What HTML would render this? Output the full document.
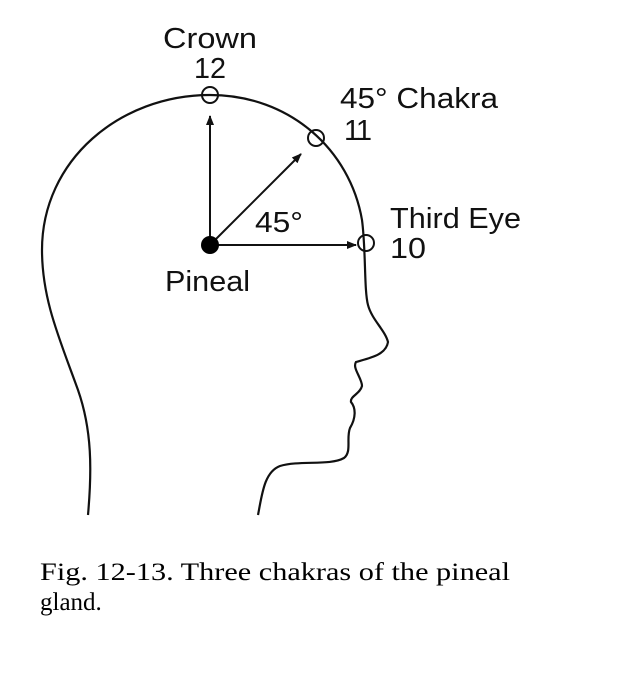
<!DOCTYPE html>
<html><head><style>
html,body{margin:0;padding:0;background:#fff;width:630px;height:700px;overflow:hidden}
svg{display:block}
.l{font-family:"Liberation Sans",sans-serif;font-size:29px;fill:#111}
.c{font-family:"Liberation Serif",serif;font-size:25px;fill:#000}
</style></head><body>
<svg width="630" height="700" viewBox="0 0 630 700">
<defs><marker id="a" markerWidth="10" markerHeight="10" refX="9" refY="5" orient="auto" markerUnits="userSpaceOnUse"><path d="M0,1 L10,5 L0,9 Z" fill="#111"/></marker></defs>
<path d="M88,515 C92,470 92,430 78,390 C60,340 42,300 42,250 C42,160 120,95 210,95 C290,95 350,150 362,220 C366,250 364,290 368,305 C372,320 385,330 388,342 C386,355 370,358 356,362 C352,368 362,378 362,386 C360,394 350,396 351,402 C356,408 356,418 350,428 C346,438 352,452 344,458 C330,466 300,460 280,466 C264,472 262,495 258,515" fill="none" stroke="#111" stroke-width="2.2"/>
<circle cx="210" cy="95" r="8" fill="none" stroke="#111" stroke-width="2"/>
<circle cx="316" cy="138" r="8" fill="none" stroke="#111" stroke-width="2"/>
<circle cx="366" cy="243" r="8" fill="none" stroke="#111" stroke-width="2"/>
<line x1="210" y1="245" x2="210" y2="116" stroke="#111" stroke-width="2" marker-end="url(#a)"/>
<line x1="210" y1="245" x2="301" y2="154" stroke="#111" stroke-width="2" marker-end="url(#a)"/>
<line x1="210" y1="245" x2="356" y2="245" stroke="#111" stroke-width="2" marker-end="url(#a)"/>
<circle cx="210" cy="245" r="9" fill="#000"/>
<text class="l" x="163" y="48" textLength="94" lengthAdjust="spacingAndGlyphs">Crown</text>
<text class="l" x="194" y="78" textLength="32" lengthAdjust="spacingAndGlyphs">12</text>
<text class="l" x="340" y="108" textLength="158" lengthAdjust="spacingAndGlyphs">45° Chakra</text>
<text class="l" x="344" y="140" textLength="28" lengthAdjust="spacing">11</text>
<text class="l" x="390" y="228" textLength="131" lengthAdjust="spacingAndGlyphs">Third Eye</text>
<text class="l" x="390" y="258" textLength="36" lengthAdjust="spacingAndGlyphs">10</text>
<text class="l" x="255" y="232" textLength="48" lengthAdjust="spacingAndGlyphs">45°</text>
<text class="l" x="165" y="291" textLength="85" lengthAdjust="spacingAndGlyphs">Pineal</text>
<text class="c" x="40" y="580" textLength="470" lengthAdjust="spacingAndGlyphs">Fig. 12-13. Three chakras of the pineal</text>
<text class="c" x="40" y="610">gland.</text>
</svg>
</body></html>
